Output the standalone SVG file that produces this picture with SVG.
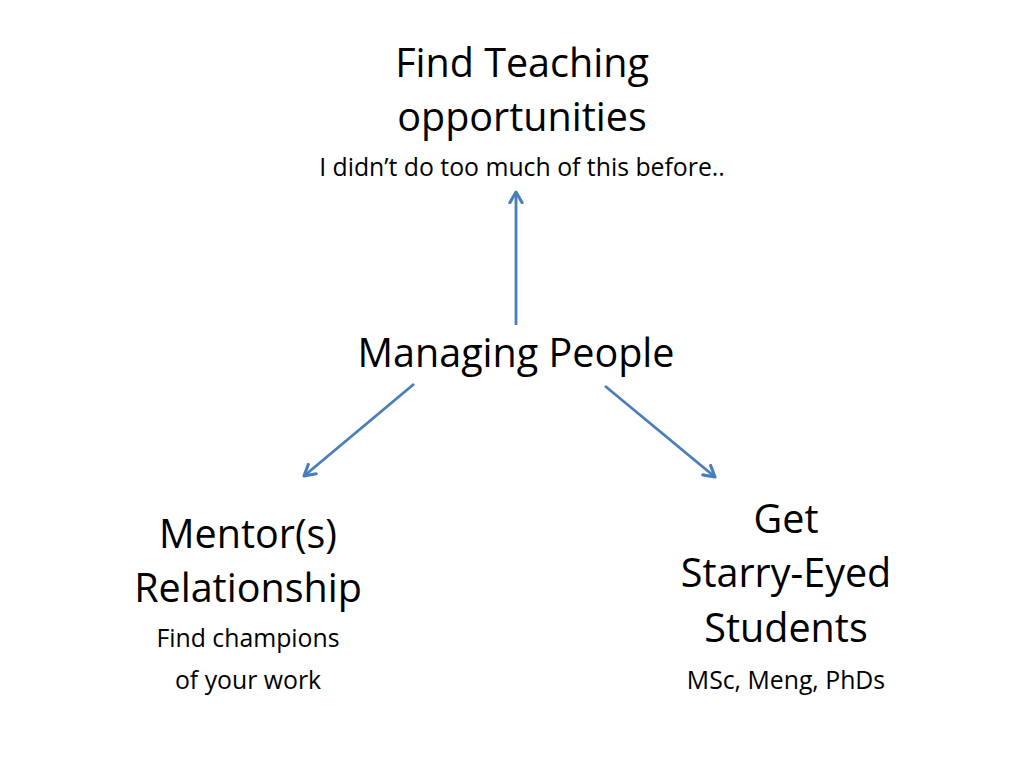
<svg xmlns="http://www.w3.org/2000/svg" width="1024" height="768" viewBox="0 0 1024 768">
<style>
text{font-family:"Open Sans",Lato,"Liberation Sans",sans-serif;fill:#000;text-anchor:middle}
.big{font-size:39.5px}
.small{font-size:24.8px}
.conn line{stroke:#4a7ebb;stroke-width:2.8;fill:none;marker-end:url(#arr)}
</style>
<defs>
<marker id="arr" viewBox="0 0 10 10" refX="8" refY="5" markerWidth="5.5" markerHeight="5.5" orient="auto" markerUnits="strokeWidth">
<path d="M1,1 L8,5 L1,9" fill="none" stroke="#4a7ebb" stroke-width="2" stroke-linecap="round" stroke-linejoin="round"/>
</marker>
</defs>
<rect width="1024" height="768" fill="#fff"/>
<g id="teaching">
<text class="big" x="522" y="77">Find Teaching</text>
<text class="big" x="522" y="131">opportunities</text>
<text class="small" x="522" y="176">I didn’t do too much of this before..</text>
</g>
<g id="managing">
<text class="big" x="516" y="367">Managing People</text>
</g>
<g id="mentor">
<text class="big" x="248" y="548">Mentor(s)</text>
<text class="big" x="248" y="602">Relationship</text>
<text class="small" x="248" y="647">Find champions</text>
<text class="small" x="248" y="689">of your work</text>
</g>
<g id="students">
<text class="big" x="786" y="533">Get</text>
<text class="big" x="786" y="587">Starry-Eyed</text>
<text class="big" x="786" y="642">Students</text>
<text class="small" x="786" y="689">MSc, Meng, PhDs</text>
</g>
<g class="conn" id="connectors">
<line x1="516" y1="325" x2="516" y2="192"/>
<line x1="414" y1="384" x2="304" y2="476"/>
<line x1="605" y1="386" x2="715" y2="477"/>
</g>
</svg>
